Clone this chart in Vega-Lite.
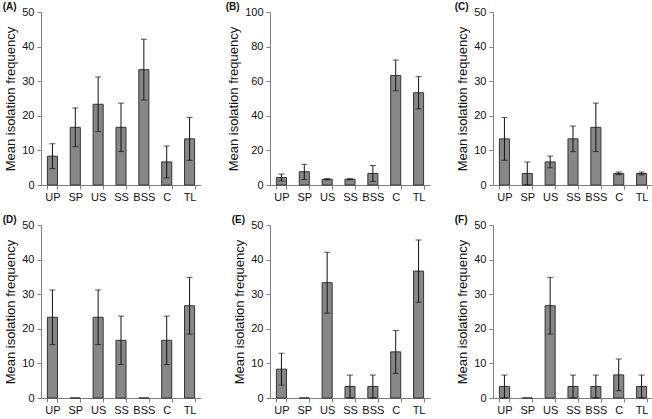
{
  "$schema": "https://vega.github.io/schema/vega-lite/v6.json",
  "padding": {"left": 2, "top": 2, "right": 0, "bottom": 0},
  "background": "white",
  "data": {"values": [
    {"panel": "A", "site": "UP", "mean": 8.33, "lo": 4.73, "hi": 11.93},
    {"panel": "A", "site": "SP", "mean": 16.67, "lo": 11.07, "hi": 22.27},
    {"panel": "A", "site": "US", "mean": 23.33, "lo": 15.43, "hi": 31.23},
    {"panel": "A", "site": "SS", "mean": 16.67, "lo": 9.67, "hi": 23.67},
    {"panel": "A", "site": "BSS", "mean": 33.33, "lo": 24.53, "hi": 42.13},
    {"panel": "A", "site": "C", "mean": 6.67, "lo": 2.07, "hi": 11.27},
    {"panel": "A", "site": "TL", "mean": 13.33, "lo": 7.13, "hi": 19.53},
    {"panel": "B", "site": "UP", "mean": 4.33, "lo": 2.33, "hi": 6.33},
    {"panel": "B", "site": "SP", "mean": 7.67, "lo": 3.17, "hi": 11.97},
    {"panel": "B", "site": "US", "mean": 3.33, "lo": 3.03, "hi": 3.63},
    {"panel": "B", "site": "SS", "mean": 3.33, "lo": 3.03, "hi": 3.63},
    {"panel": "B", "site": "BSS", "mean": 6.67, "lo": 2.07, "hi": 11.27},
    {"panel": "B", "site": "C", "mean": 63.33, "lo": 54.43, "hi": 72.23},
    {"panel": "B", "site": "TL", "mean": 53.33, "lo": 44.03, "hi": 62.63},
    {"panel": "C", "site": "UP", "mean": 13.33, "lo": 7.13, "hi": 19.53},
    {"panel": "C", "site": "SP", "mean": 3.33, "lo": 0.03, "hi": 6.63},
    {"panel": "C", "site": "US", "mean": 6.67, "lo": 4.97, "hi": 8.37},
    {"panel": "C", "site": "SS", "mean": 13.33, "lo": 9.63, "hi": 17.03},
    {"panel": "C", "site": "BSS", "mean": 16.67, "lo": 9.67, "hi": 23.67},
    {"panel": "C", "site": "C", "mean": 3.33, "lo": 2.93, "hi": 3.73},
    {"panel": "C", "site": "TL", "mean": 3.33, "lo": 2.93, "hi": 3.73},
    {"panel": "D", "site": "UP", "mean": 23.33, "lo": 15.43, "hi": 31.23},
    {"panel": "D", "site": "SP", "mean": 0, "lo": null, "hi": null},
    {"panel": "D", "site": "US", "mean": 23.33, "lo": 15.43, "hi": 31.23},
    {"panel": "D", "site": "SS", "mean": 16.67, "lo": 9.67, "hi": 23.67},
    {"panel": "D", "site": "BSS", "mean": 0, "lo": null, "hi": null},
    {"panel": "D", "site": "C", "mean": 16.67, "lo": 9.67, "hi": 23.67},
    {"panel": "D", "site": "TL", "mean": 26.67, "lo": 18.47, "hi": 34.87},
    {"panel": "E", "site": "UP", "mean": 8.33, "lo": 3.73, "hi": 12.93},
    {"panel": "E", "site": "SP", "mean": 0, "lo": null, "hi": null},
    {"panel": "E", "site": "US", "mean": 33.33, "lo": 24.53, "hi": 42.13},
    {"panel": "E", "site": "SS", "mean": 3.33, "lo": 0.03, "hi": 6.63},
    {"panel": "E", "site": "BSS", "mean": 3.33, "lo": 0.03, "hi": 6.63},
    {"panel": "E", "site": "C", "mean": 13.33, "lo": 7.13, "hi": 19.53},
    {"panel": "E", "site": "TL", "mean": 36.67, "lo": 27.67, "hi": 45.67},
    {"panel": "F", "site": "UP", "mean": 3.33, "lo": 0.03, "hi": 6.63},
    {"panel": "F", "site": "SP", "mean": 0, "lo": null, "hi": null},
    {"panel": "F", "site": "US", "mean": 26.67, "lo": 18.47, "hi": 34.87},
    {"panel": "F", "site": "SS", "mean": 3.33, "lo": 0.03, "hi": 6.63},
    {"panel": "F", "site": "BSS", "mean": 3.33, "lo": 0.03, "hi": 6.63},
    {"panel": "F", "site": "C", "mean": 6.67, "lo": 2.07, "hi": 11.27},
    {"panel": "F", "site": "TL", "mean": 3.33, "lo": 0.03, "hi": 6.63}
  ]},
  "columns": 3,
  "spacing": {"row": 13, "column": 24},
  "concat": [
    {"title": "(A)", "width": 160, "height": 173, "transform": [{"filter": "datum.panel == 'A'"}],
     "encoding": {"x": {"field": "site", "type": "nominal", "sort": ["UP", "SP", "US", "SS", "BSS", "C", "TL"], "scale": {"paddingInner": 0.56, "paddingOuter": 0.28}}},
     "layer": [
      {"mark": {"type": "bar", "fill": "#878787", "stroke": "#333333", "strokeWidth": 1}, "encoding": {"y": {"field": "mean", "type": "quantitative", "title": "Mean isolation frequency", "scale": {"domain": [0, 50]}, "axis": {"values": [0, 10, 20, 30, 40, 50]}}}},
      {"transform": [{"filter": "datum.lo != null"}], "mark": {"type": "errorbar", "ticks": {"size": 6, "color": "#111111"}, "color": "#111111"}, "encoding": {"y": {"field": "lo", "type": "quantitative", "title": "Mean isolation frequency", "axis": {"values": [0, 10, 20, 30, 40, 50]}}, "y2": {"field": "hi"}}}
     ]},
    {"title": "(B)", "width": 160, "height": 173, "transform": [{"filter": "datum.panel == 'B'"}],
     "encoding": {"x": {"field": "site", "type": "nominal", "sort": ["UP", "SP", "US", "SS", "BSS", "C", "TL"], "scale": {"paddingInner": 0.56, "paddingOuter": 0.28}}},
     "layer": [
      {"mark": {"type": "bar", "fill": "#878787", "stroke": "#333333", "strokeWidth": 1}, "encoding": {"y": {"field": "mean", "type": "quantitative", "title": "Mean isolation frequency", "scale": {"domain": [0, 100]}, "axis": {"values": [0, 20, 40, 60, 80, 100]}}}},
      {"transform": [{"filter": "datum.lo != null"}], "mark": {"type": "errorbar", "ticks": {"size": 6, "color": "#111111"}, "color": "#111111"}, "encoding": {"y": {"field": "lo", "type": "quantitative", "title": "Mean isolation frequency", "axis": {"values": [0, 20, 40, 60, 80, 100]}}, "y2": {"field": "hi"}}}
     ]},
    {"title": "(C)", "width": 160, "height": 173, "transform": [{"filter": "datum.panel == 'C'"}],
     "encoding": {"x": {"field": "site", "type": "nominal", "sort": ["UP", "SP", "US", "SS", "BSS", "C", "TL"], "scale": {"paddingInner": 0.56, "paddingOuter": 0.28}}},
     "layer": [
      {"mark": {"type": "bar", "fill": "#878787", "stroke": "#333333", "strokeWidth": 1}, "encoding": {"y": {"field": "mean", "type": "quantitative", "title": "Mean isolation frequency", "scale": {"domain": [0, 50]}, "axis": {"values": [0, 10, 20, 30, 40, 50]}}}},
      {"transform": [{"filter": "datum.lo != null"}], "mark": {"type": "errorbar", "ticks": {"size": 6, "color": "#111111"}, "color": "#111111"}, "encoding": {"y": {"field": "lo", "type": "quantitative", "title": "Mean isolation frequency", "axis": {"values": [0, 10, 20, 30, 40, 50]}}, "y2": {"field": "hi"}}}
     ]},
    {"title": "(D)", "width": 160, "height": 173, "transform": [{"filter": "datum.panel == 'D'"}],
     "encoding": {"x": {"field": "site", "type": "nominal", "sort": ["UP", "SP", "US", "SS", "BSS", "C", "TL"], "scale": {"paddingInner": 0.56, "paddingOuter": 0.28}}},
     "layer": [
      {"mark": {"type": "bar", "fill": "#878787", "stroke": "#333333", "strokeWidth": 1}, "encoding": {"y": {"field": "mean", "type": "quantitative", "title": "Mean isolation frequency", "scale": {"domain": [0, 50]}, "axis": {"values": [0, 10, 20, 30, 40, 50]}}}},
      {"transform": [{"filter": "datum.lo != null"}], "mark": {"type": "errorbar", "ticks": {"size": 6, "color": "#111111"}, "color": "#111111"}, "encoding": {"y": {"field": "lo", "type": "quantitative", "title": "Mean isolation frequency", "axis": {"values": [0, 10, 20, 30, 40, 50]}}, "y2": {"field": "hi"}}}
     ]},
    {"title": "(E)", "width": 160, "height": 173, "transform": [{"filter": "datum.panel == 'E'"}],
     "encoding": {"x": {"field": "site", "type": "nominal", "sort": ["UP", "SP", "US", "SS", "BSS", "C", "TL"], "scale": {"paddingInner": 0.56, "paddingOuter": 0.28}}},
     "layer": [
      {"mark": {"type": "bar", "fill": "#878787", "stroke": "#333333", "strokeWidth": 1}, "encoding": {"y": {"field": "mean", "type": "quantitative", "title": "Mean isolation frequency", "scale": {"domain": [0, 50]}, "axis": {"values": [0, 10, 20, 30, 40, 50]}}}},
      {"transform": [{"filter": "datum.lo != null"}], "mark": {"type": "errorbar", "ticks": {"size": 6, "color": "#111111"}, "color": "#111111"}, "encoding": {"y": {"field": "lo", "type": "quantitative", "title": "Mean isolation frequency", "axis": {"values": [0, 10, 20, 30, 40, 50]}}, "y2": {"field": "hi"}}}
     ]},
    {"title": "(F)", "width": 160, "height": 173, "transform": [{"filter": "datum.panel == 'F'"}],
     "encoding": {"x": {"field": "site", "type": "nominal", "sort": ["UP", "SP", "US", "SS", "BSS", "C", "TL"], "scale": {"paddingInner": 0.56, "paddingOuter": 0.28}}},
     "layer": [
      {"mark": {"type": "bar", "fill": "#878787", "stroke": "#333333", "strokeWidth": 1}, "encoding": {"y": {"field": "mean", "type": "quantitative", "title": "Mean isolation frequency", "scale": {"domain": [0, 50]}, "axis": {"values": [0, 10, 20, 30, 40, 50]}}}},
      {"transform": [{"filter": "datum.lo != null"}], "mark": {"type": "errorbar", "ticks": {"size": 6, "color": "#111111"}, "color": "#111111"}, "encoding": {"y": {"field": "lo", "type": "quantitative", "title": "Mean isolation frequency", "axis": {"values": [0, 10, 20, 30, 40, 50]}}, "y2": {"field": "hi"}}}
     ]}
  ],
  "config": {
    "view": {"stroke": null},
    "font": "Liberation Sans",
    "axis": {"grid": false, "domainColor": "#808080", "tickColor": "#808080", "tickSize": 4, "labelColor": "#111111", "labelFont": "Liberation Sans", "labelFontSize": 11, "labelPadding": 3, "labelOverlap": false, "titleFont": "Liberation Sans", "titleFontSize": 13, "titleFontWeight": "normal", "titleColor": "#111111", "titlePadding": 4},
    "axisX": {"tickBand": "extent", "labelAngle": 0, "title": null, "labelPadding": 2},
    "title": {"anchor": "start", "frame": "bounds", "font": "Liberation Sans", "fontSize": 10, "fontWeight": "bold", "color": "#111111", "offset": -6, "dx": -2}
  }
}
